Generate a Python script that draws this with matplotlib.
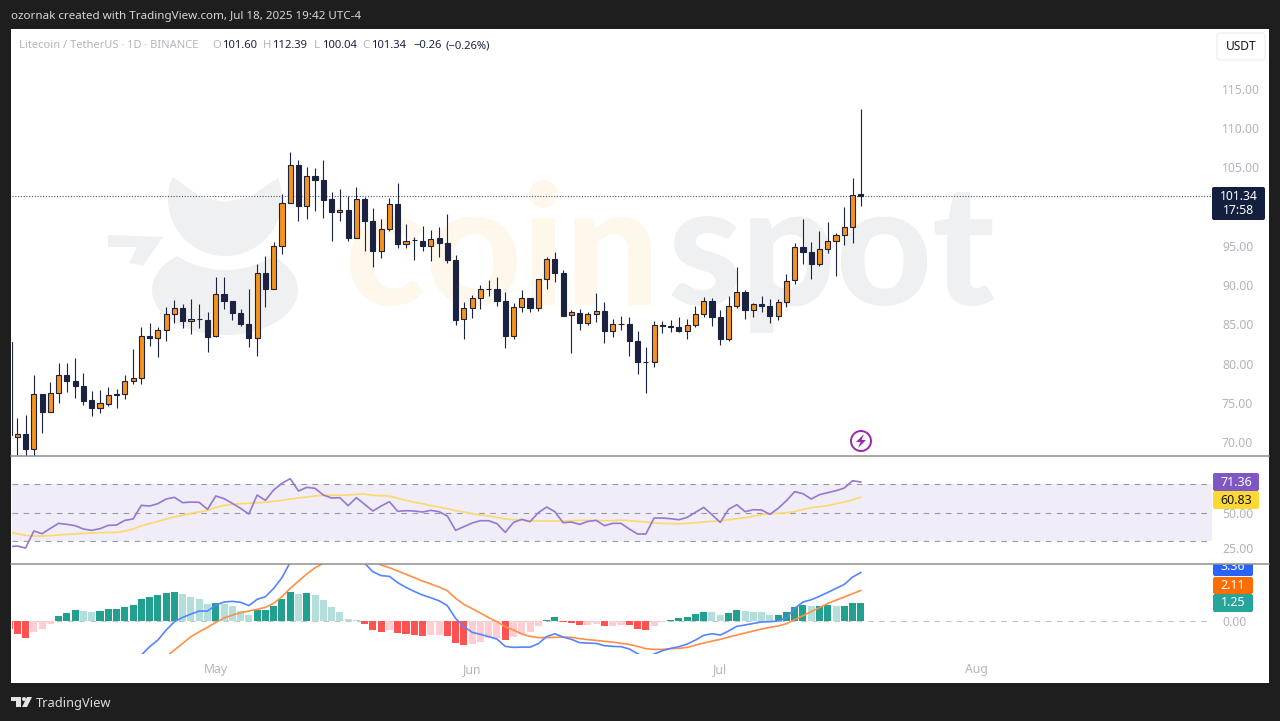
import pandas as pd
import matplotlib
matplotlib.use('Agg')
import matplotlib.pyplot as plt
import matplotlib.dates as mdates
from matplotlib.patches import Rectangle, FancyBboxPatch, Ellipse, Circle, Polygon

plt.rcParams['font.family'] = ['Noto Sans', 'DejaVu Sans']

# daily candles, Apr 6 to Jul 18 2025
opens = [82.75,
    70.63, 70.97, 69.10, 76.07, 73.77, 76.20, 78.53, 77.81, 77.13, 75.30,
    74.32, 74.88, 76.05, 76.07, 77.81, 78.11, 83.46, 83.21, 84.31, 86.27,
    87.03, 85.37, 85.63, 85.50, 83.50, 88.86, 87.93, 86.48, 85.08, 83.21,
    91.58, 89.50, 94.94, 100.46, 105.26, 100.12, 103.86, 103.44, 100.93, 99.27,
    99.53, 95.96, 100.93, 98.21, 94.39, 97.10, 100.29, 95.24, 95.70, 95.57,
    94.94, 95.96, 95.40, 93.20, 85.63, 87.03, 88.31, 89.54, 89.54, 88.01,
    83.50, 87.25, 88.31, 87.12, 90.73, 93.32, 91.58,
    86.15, 86.49, 85.17, 86.27, 86.74, 84.19, 85.08, 85.08, 82.92, 80.20,
    80.15, 84.83, 84.83, 84.66, 84.19, 84.87, 86.27, 87.93, 85.93, 83.17,
    87.34, 89.08, 86.83, 87.55, 87.34, 86.02, 87.80, 90.61, 94.82, 94.18,
    92.73, 94.60, 95.58, 96.35, 97.45, 101.60]
highs = [82.75,
    73.01, 73.43, 78.53, 76.07, 77.60, 80.10, 80.02, 80.66, 78.75, 76.54,
    76.62, 77.05, 76.71, 78.53, 81.80, 84.70, 85.20, 84.70, 87.25, 88.10,
    87.58, 88.18, 87.54, 86.61, 91.07, 91.07, 87.93, 86.90, 89.54, 92.64,
    93.70, 95.53, 101.57, 107.00, 105.95, 105.10, 104.97, 105.95, 101.91, 102.20,
    101.36, 102.46, 101.27, 99.78, 98.38, 101.06, 102.97, 97.78, 96.09, 97.57,
    97.02, 97.45, 99.02, 93.83, 87.88, 88.73, 90.01, 90.64, 90.98, 89.07,
    87.67, 89.37, 88.31, 90.73, 93.62, 94.21, 91.92,
    86.82, 86.91, 86.61, 88.95, 87.80, 85.68, 86.10, 85.98, 84.15, 82.07,
    85.47, 85.47, 85.55, 85.98, 85.64, 87.38, 88.53, 88.36, 86.83, 88.65,
    92.27, 89.38, 87.76, 88.61, 88.23, 88.23, 91.42, 95.33, 98.39, 95.54,
    96.94, 98.00, 96.69, 100.00, 103.65, 112.39]
lows = [68.00,
    68.33, 68.20, 68.20, 71.18, 73.77, 74.92, 76.41, 75.64, 74.71, 73.35,
    73.73, 74.58, 74.28, 75.43, 77.38, 77.38, 82.27, 80.78, 82.91, 85.20,
    84.57, 83.72, 84.48, 81.47, 83.42, 86.95, 85.55, 84.78, 82.15, 81.00,
    87.25, 89.50, 93.92, 100.46, 98.17, 98.38, 99.44, 98.59, 95.66, 98.21,
    95.66, 95.96, 94.34, 92.30, 93.49, 96.94, 94.68, 94.77, 93.20, 94.34,
    93.03, 93.58, 92.86, 84.91, 83.17, 85.76, 86.95, 88.65, 87.37, 81.98,
    83.17, 86.61, 86.61, 86.73, 89.54, 90.43, 86.10,
    81.30, 84.28, 84.91, 85.34, 82.58, 83.43, 84.28, 81.00, 78.62, 76.20,
    79.52, 83.85, 83.98, 84.06, 83.17, 84.66, 85.89, 84.79, 82.41, 82.92,
    87.04, 85.64, 85.89, 86.57, 85.21, 85.55, 87.17, 90.14, 92.69, 90.78,
    92.44, 94.14, 91.20, 95.11, 95.33, 100.04]
closes = [70.90,
    70.97, 69.10, 76.07, 73.77, 76.20, 78.53, 77.81, 77.13, 75.26, 74.32,
    74.96, 75.94, 76.09, 77.81, 78.11, 83.46, 83.21, 84.31, 86.27, 87.03,
    85.37, 85.63, 85.65, 83.42, 88.86, 87.97, 86.44, 85.08, 83.21, 91.58,
    89.50, 94.94, 100.46, 105.26, 100.12, 103.86, 103.39, 100.89, 99.27, 99.53,
    95.96, 100.93, 98.21, 94.39, 97.10, 100.29, 95.24, 95.57, 95.72, 94.98,
    95.92, 95.32, 93.20, 85.55, 87.03, 88.31, 89.54, 89.56, 87.97, 83.50,
    87.25, 88.31, 87.12, 90.73, 93.32, 91.54, 86.10,
    86.53, 85.17, 86.27, 86.70, 84.19, 85.08, 85.10, 82.87, 80.15, 80.22,
    84.87, 84.85, 84.62, 84.19, 84.87, 86.27, 87.93, 85.93, 83.17, 87.38,
    89.08, 86.83, 87.55, 87.34, 86.02, 87.80, 90.57, 94.82, 94.26, 92.73,
    94.60, 95.58, 96.35, 97.45, 101.53, 101.34]

rsi = [26.0,
    26.47, 25.06, 37.0, 35.13, 38.87, 42.38, 41.68, 40.74, 38.4, 37.47,
    38.64, 40.98, 41.21, 44.49, 45.42, 55.02, 54.55, 56.19, 59.46, 60.63,
    56.89, 57.36, 57.12, 52.21, 61.57, 59.7, 56.42, 52.91, 48.93, 62.27,
    58.53, 65.78, 70.46, 73.74, 65.08, 67.65, 66.95, 62.27, 60.16, 60.4,
    54.78, 60.4, 55.72, 51.04, 54.55, 57.59, 50.8, 51.27, 51.04, 50.34,
    51.51, 50.57, 47.53, 37.47, 40.04, 42.61, 44.25, 44.25, 42.15, 36.06,
    43.08, 45.19, 43.55, 49.87, 53.85, 50.57, 42.85, 43.32, 41.68, 43.78,
    44.49, 40.74, 42.38, 42.38, 38.4, 34.89, 34.89, 46.12, 46.12, 45.66,
    44.95, 46.59, 50.1, 53.61, 48.46, 43.08, 52.21, 55.48, 50.57, 51.97,
    51.74, 48.7, 52.91, 58.29, 64.61, 63.21, 59.46, 62.5, 63.91, 65.31,
    67.18, 72.33, 71.36]
rsi_ma = [36.06,
    35.13, 33.96, 33.49, 33.49, 33.72, 34.19, 34.66, 34.89, 35.36, 35.59,
    35.83, 36.06, 36.06, 37.0, 38.4, 40.74, 42.15, 43.78, 45.42, 46.83,
    48.0, 49.4, 50.34, 51.51, 53.61, 55.02, 55.72, 56.19, 56.42, 56.89,
    57.12, 57.82, 58.53, 59.46, 60.16, 60.87, 61.57, 62.04, 62.04, 62.04,
    62.27, 62.74, 62.97, 62.04, 61.8, 61.57, 59.93, 58.53, 57.12, 56.19,
    54.78, 53.85, 52.68, 51.27, 50.34, 49.17, 48.23, 47.53, 46.59, 45.42,
    44.95, 44.49, 44.02, 44.02, 44.02, 44.02, 44.02, 44.25, 44.49, 44.49,
    44.49, 44.25, 44.25, 44.72, 44.25, 43.78, 43.32, 42.61, 42.38, 42.15,
    42.15, 42.38, 42.85, 43.32, 43.78, 44.25, 44.95, 45.66, 46.36, 47.29,
    48.46, 49.17, 49.4, 49.87, 50.57, 52.21, 53.38, 54.08, 54.78, 56.19,
    57.36, 58.76, 60.83]

macd_hist = [-0.58,
    -0.93, -1.18, -0.77, -0.58, -0.23, 0.30, 0.53, 0.73, 0.71, 0.64,
    0.66, 0.79, 0.84, 0.95, 1.07, 1.49, 1.65, 1.79, 1.95, 2.02,
    1.86, 1.67, 1.49, 1.19, 1.25, 1.18, 1.02, 0.70, 0.42, 0.72,
    0.74, 1.02, 1.49, 2.02, 1.88, 1.90, 1.79, 1.44, 0.95, 0.58,
    0.12, 0.07, -0.23, -0.65, -0.77, -0.63, -0.88, -0.95, -1.00, -1.07,
    -1.02, -1.00, -1.05, -1.58, -1.70, -1.65, -1.46, -1.23, -1.18, -1.35,
    -1.16, -0.91, -0.77, -0.39, 0.07, 0.26, -0.07, -0.16, -0.29, -0.28,
    -0.21, -0.36, -0.35, -0.28, -0.33, -0.56, -0.63, -0.35, -0.07, 0.07,
    0.19, 0.26, 0.44, 0.61, 0.60, 0.42, 0.53, 0.72, 0.65, 0.60,
    0.59, 0.42, 0.43, 0.60, 0.95, 1.07, 1.01, 1.03, 1.07, 1.01,
    1.03, 1.24, 1.25]
# lines leave the pane at the left, so they start later than the candles
macd_line = [-2.39, -1.81, -1.35, -0.65, -0.07,
    0.23, 0.46, 0.67, 0.67, 1.09, 1.30, 1.35, 1.28, 1.05, 1.49,
    1.67, 2.25, 3.0, 4.07, 4.81, 5.27, 5.62, 5.85, 5.74, 5.46,
    5.04, 4.46, 4.0, 3.41, 3.14, 3.09, 2.65, 2.32, 2.04, 1.79,
    1.6, 1.39, 1.05, 0.16, -0.42, -0.81, -0.95, -1.11, -1.28, -1.79,
    -1.86, -1.84, -1.84, -1.6, -1.11, -0.91, -1.14, -1.3, -1.53, -1.56,
    -1.58, -1.74, -1.79, -1.81, -1.97, -2.3, -2.62, -2.32, -2.09, -1.93,
    -1.81, -1.63, -1.35, -1.02, -0.91, -1.0, -0.72, -0.39, -0.3, -0.19,
    -0.09, -0.07, -0.02, 0.21, 0.86, 1.3, 1.46, 1.7, 1.97, 2.25,
    2.53, 3.04, 3.36]
macd_signal = [-2.51, -2.04,
    -1.58, -1.11, -0.77, -0.46, -0.12, 0.19, 0.39, 0.56, 0.67, 0.79,
    0.93, 1.21, 1.67, 2.25, 2.76, 3.25, 3.69, 4.0, 4.34, 4.53,
    4.62, 4.65, 4.46, 4.16, 3.88, 3.69, 3.46, 3.23, 3.0, 2.76,
    2.56, 2.35, 2.09, 1.56, 1.14, 0.84, 0.53, 0.21, -0.07, -0.42,
    -0.65, -0.93, -1.09, -1.18, -1.18, -1.16, -1.14, -1.16, -1.25, -1.32,
    -1.37, -1.44, -1.49, -1.58, -1.65, -1.79, -1.95, -2.0, -2.0, -1.95,
    -1.93, -1.86, -1.7, -1.56, -1.42, -1.3, -1.14, -1.0, -0.86, -0.72,
    -0.58, -0.46, -0.37, -0.21, 0.07, 0.35, 0.63, 0.91, 1.2, 1.43,
    1.65, 1.88, 2.11]

price_ticks = [70, 75, 80, 85, 90, 95, 100, 105, 110, 115]
rsi_ticks = [25, 50, 75]
rsi_bands = [30, 50, 70]
month_ticks = ['2025-05-01', '2025-06-01', '2025-07-01', '2025-08-01']
month_labels = ['May', 'Jun', 'Jul', 'Aug']

UP = '#f7931a'
DOWN = '#1b2340'
GREY = '#b2b5be'
W, H = 1280, 721

days = mdates.date2num(pd.date_range('2025-04-06', periods=len(closes)))
xmin = days[1] + (11.5 - 17.3) / 8.27
xmax = days[1] + (1212 - 17.3) / 8.27

fig = plt.figure(figsize=(12.8, 7.21), dpi=100, facecolor='#1e1e1e')


def pane(top, bottom, left=11.5, right=1212, z=1):
    ax = fig.add_axes([left / W, 1 - bottom / H, (right - left) / W, (bottom - top) / H], zorder=z)
    ax.patch.set_alpha(0)
    for s in ax.spines.values():
        s.set_visible(False)
    return ax


# background layer in pixel coords, panel and watermark
bg = pane(0, H, 0, W, z=0)
bg.set_xlim(0, W)
bg.set_ylim(H, 0)
bg.axis('off')
bg.add_patch(Rectangle((11, 29), 1258, 654, fc='white', ec='none'))
wm = '#eff0f2'
bg.add_patch(Ellipse((225, 290), 146, 90, fc=wm, ec='none'))
bg.add_patch(Ellipse((225, 208), 150, 124, fc='white', ec='none'))
bg.add_patch(Circle((225, 199), 57, fc=wm, ec='none'))
# cut the top of the disc down to the two ears
bg.add_patch(Polygon([(165, 130), (285, 130), (285, 172), (275, 180), (250, 197), (225, 202), (200, 197), (177, 180), (165, 172)], fc='white', ec='none'))
bg.add_patch(Polygon([(177, 180), (168, 205), (200, 197)], fc=wm, ec='none'))
bg.add_patch(Polygon([(275, 180), (282, 205), (250, 197)], fc=wm, ec='none'))
bg.add_patch(Polygon([(108, 235), (163, 237), (143, 266), (129, 263), (137, 247), (108, 247)], fc=wm, ec='none'))
bg.text(345, 305, 'coin', family='Lato', fontweight=900, fontsize=120, color='#fef7ec', va='baseline')
bg.text(668, 305, 'spot', family='Lato', fontweight=900, fontsize=120, color=wm, va='baseline')

# candles
ax = pane(29, 456)
ax.set_xlim(xmin, xmax)
ax.set_ylim(115 - (456 - 89) / 7.844, 115 + 60 / 7.844)
colors = [UP if c >= o else DOWN for o, c in zip(opens, closes)]
ax.vlines(days, lows, highs, color=DOWN, lw=0.8, zorder=2)
ax.bar(days, [abs(c - o) for o, c in zip(opens, closes)], bottom=[min(o, c) for o, c in zip(opens, closes)],
       width=0.62, color=colors, edgecolor=DOWN, linewidth=0.8, zorder=3)
ax.axhline(closes[-1], color='#50535e', lw=0.8, ls=(0, (1, 1.5)), zorder=1)
ax.set_xticks([])
ax.set_yticks(price_ticks)
ax.set_yticklabels(['%.2f' % t for t in price_ticks])

# RSI
ax2 = pane(456, 564)
ax2.set_xlim(xmin, xmax)
ax2.set_ylim(50 - (564 - 512.5) / 1.425, 50 + (512.5 - 456) / 1.425)
ax2.axhspan(rsi_bands[0], rsi_bands[2], color='#7e57c2', alpha=0.11, lw=0)
for b in rsi_bands:
    ax2.axhline(b, color='#787b86', lw=0.8, alpha=0.75, ls=(0, (5, 5)))
ax2.plot(days[-len(rsi_ma):], rsi_ma, color='#fdd86a', lw=1.2)
ax2.plot(days[-len(rsi):], rsi, color='#9478d2', lw=1.2)
ax2.set_xticks([])
ax2.set_yticks(rsi_ticks)
ax2.set_yticklabels(['%.2f' % t for t in rsi_ticks])

# MACD
ax3 = pane(564, 653.5)
ax3.set_xlim(xmin, xmax)
ax3.set_ylim(-(653.5 - 620.7) / 14.35, (620.7 - 564) / 14.35)
bar_colors = []
for i, v in enumerate(macd_hist):
    rising = i > 0 and v > macd_hist[i - 1]
    if v >= 0:
        bar_colors.append('#22a08f' if rising else '#b2dfdb')
    else:
        bar_colors.append('#ffcdd2' if rising else '#ff5252')
ax3.axhline(0, color='#c4c4c8', lw=0.8, ls=(0, (5, 5)), zorder=1)
ax3.bar(days, macd_hist, width=0.85, color=bar_colors, zorder=2)
ax3.plot(days[-len(macd_signal):], macd_signal, color='#ff8f45', lw=1.2, zorder=3)
ax3.plot(days[-len(macd_line):], macd_line, color='#5485ff', lw=1.2, zorder=4)
ax3.set_yticks([0])
ax3.set_yticklabels(['0.00'])
ax3.set_xticks(mdates.date2num(pd.to_datetime(month_ticks)))
ax3.set_xticklabels(month_labels, color=GREY, fontsize=8.8, fontweight='semibold')
ax3.tick_params(axis='x', length=0, pad=7)

for a in (ax, ax2, ax3):
    a.yaxis.tick_right()
    a.tick_params(axis='y', length=0, pad=7.2, labelcolor=GREY, labelsize=8.8)

# top layer, header, tags and separators
top = pane(0, H, 0, W, z=5)
top.set_xlim(0, W)
top.set_ylim(H, 0)
top.axis('off')


def label(x, y, s, color='white', size=9, ha='left', **kw):
    top.text(x, y, s, color=color, fontsize=size, ha=ha, va='center', **kw)


def tag(l, t, r, b, color):
    top.add_patch(FancyBboxPatch((l + 1, t + 1), r - l - 2, b - t - 2, boxstyle='round,pad=1,rounding_size=2',
                                 fc=color, ec='none'))


label(11, 17, 'ozornak created with TradingView.com, Jul 18, 2025 19:42 UTC-4', '#d6d6d6', 8.37)

label(19, 46, 'Litecoin / TetherUS · 1D · BINANCE', GREY, 8.0)
legend_items = [(212, 'O', GREY), (222, '101.60', DOWN), (263, 'H', GREY), (272, '112.39', DOWN),
                (314, 'L', GREY), (322, '100.04', DOWN), (362, 'C', GREY), (371, '101.34', DOWN),
                (413, '−0.26', DOWN), (446, '(−0.26%)', DOWN)]
for x, s, c in legend_items:
    label(x, 46, s, c, 8.1)

top.add_patch(FancyBboxPatch((1218, 34), 46, 25, boxstyle='round,pad=1,rounding_size=3', fc='white', ec='#ececec', lw=0.8))
label(1241, 47, 'USDT', '#131722', 8.6, ha='center')

tag(1212, 187, 1265, 220, '#131f3f')
label(1238.5, 196, '101.34', 'white', 8.8, ha='center')
label(1238.5, 211, '17:58', 'white', 8.8, ha='center')

tag(1213, 473, 1259, 491, '#7e57c2')
label(1236, 482, '71.36', 'white', 9, ha='center')
tag(1213, 491, 1259, 509, '#fdd835')
label(1236, 500, '60.83', '#131722', 9, ha='center')

tag(1213, 556, 1253, 576, '#2962ff')
label(1233, 567, '3.36', 'white', 9, ha='center')
top.add_patch(Rectangle((1212, 556), 44, 7.5, fc='white', ec='none', zorder=3))
tag(1213, 577, 1253, 594, '#ff6d00')
label(1233, 585.5, '2.11', 'white', 9, ha='center')
tag(1213, 594, 1253, 612, '#26a69a')
label(1233, 603, '1.25', 'white', 9, ha='center')

top.plot([11, 1269], [456, 456], color='#8f8f8f', lw=1.1, zorder=4)
top.plot([11, 1269], [564, 564], color='#8f8f8f', lw=1.1, zorder=4)

# earnings style marker above the last candles
top.add_patch(Circle((861, 441), 10, fc='white', ec='#9c27b0', lw=1.4))
top.add_patch(Polygon([(864, 434), (856, 442), (860.5, 442), (858, 448), (866, 440), (861.5, 440)], fc='#9c27b0', ec='none'))

# TradingView logo
top.add_patch(Polygon([(11, 697), (21, 697), (21, 707), (16, 707), (16, 701), (11, 701)], fc='#e4e4e4', ec='none'))
top.add_patch(Circle((24, 699), 2, fc='#e4e4e4', ec='none'))
top.add_patch(Polygon([(27, 697), (32, 697), (27, 707), (22, 707)], fc='#e4e4e4', ec='none'))
label(36, 703, 'TradingView', '#dcdcdc', 9.25)

fig.savefig('out.png', dpi=100, facecolor=fig.get_facecolor())
